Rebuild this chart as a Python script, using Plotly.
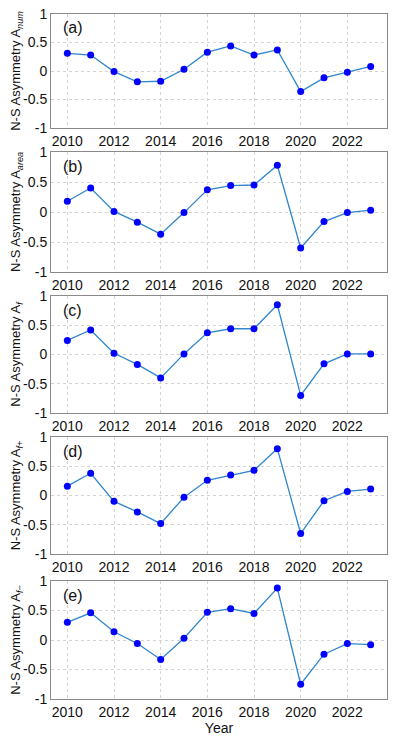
import plotly.graph_objects as go

years = list(range(2010, 2024))
a_num = [0.31, 0.28, -0.01, -0.19, -0.18, 0.03, 0.33, 0.44, 0.28, 0.37, -0.36, -0.12, -0.02, 0.08]
a_area = [0.18, 0.40, 0.01, -0.17, -0.37, -0.01, 0.37, 0.44, 0.45, 0.78, -0.60, -0.16, -0.01, 0.03]
a_f = [0.24, 0.42, 0.02, -0.17, -0.40, 0.01, 0.37, 0.44, 0.44, 0.85, -0.70, -0.16, 0.01, 0.01]
a_fplus = [0.16, 0.38, -0.10, -0.28, -0.48, -0.03, 0.26, 0.35, 0.43, 0.80, -0.65, -0.09, 0.07, 0.11]
a_fminus = [0.30, 0.46, 0.14, -0.06, -0.33, 0.03, 0.47, 0.53, 0.45, 0.88, -0.75, -0.24, -0.06, -0.08]

series = [a_num, a_area, a_f, a_fplus, a_fminus]
panel_labels = ["(a)", "(b)", "(c)", "(d)", "(e)"]
y_titles = [
    "N-S Asymmetry A<sub><i>num</i></sub>",
    "N-S Asymmetry A<sub><i>area</i></sub>",
    "N-S Asymmetry A<sub><i>f</i></sub>",
    "N-S Asymmetry A<sub><i>f+</i></sub>",
    "N-S Asymmetry A<sub><i>f−</i></sub>",
]
x_ticks = [2010, 2012, 2014, 2016, 2018, 2020, 2022]
y_ticks = [-1, -0.5, 0, 0.5, 1]
y_tick_text = ["-1", "-0.5", "0", "0.5", "1"]

# page body has an 8px margin; figure is sized to fit inside the window
OFF = 8
W, H = 399 - OFF, 743 - OFF
tops = [14, 152, 296, 437, 581]
bottoms = [128, 272, 413, 554, 699]

fig = go.Figure()
font = "Liberation Sans, Arial, sans-serif"
for i, vals in enumerate(series):
    n = i + 1
    xa = "x" if n == 1 else f"x{n}"
    ya = "y" if n == 1 else f"y{n}"
    fig.add_trace(go.Scatter(
        x=years, y=vals, xaxis=xa, yaxis=ya, mode="lines+markers",
        line=dict(color="#2f86cc", width=1.3),
        marker=dict(color="#0000ff", size=7),
        showlegend=False, cliponaxis=False,
    ))
    dom = [1 - (bottoms[i] - OFF) / H, 1 - (tops[i] - OFF) / H]
    xkey = "xaxis" if n == 1 else f"xaxis{n}"
    ykey = "yaxis" if n == 1 else f"yaxis{n}"
    xdict = dict(
        domain=[0, 1], anchor=ya, range=[2009.3, 2023.7],
        tickvals=x_ticks, ticktext=[str(t) for t in x_ticks],
        showgrid=True, gridcolor="#d4d4d4", griddash="dot", gridwidth=1,
        showline=True, linecolor="#8a8a8a", linewidth=1, mirror=True,
        ticks="", zeroline=False, ticklabeloverflow="allow",
        tickfont=dict(family=font, size=14, color="#111"),
    )
    if n == 5:
        xdict["title"] = dict(text="Year", font=dict(family=font, size=14, color="#111"), standoff=4)
    fig.update_layout(**{
        xkey: xdict,
        ykey: dict(
            domain=dom, anchor=xa, range=[-1, 1],
            tickvals=y_ticks, ticktext=y_tick_text,
            showgrid=True, gridcolor="#d4d4d4", griddash="dot", gridwidth=1,
            showline=True, linecolor="#8a8a8a", linewidth=1, mirror=True,
            ticks="", zeroline=False, ticklabeloverflow="allow",
            tickfont=dict(family=font, size=14, color="#111"),
            title=dict(text=y_titles[i], font=dict(family=font, size=13, color="#111"), standoff=7),
        ),
    })
    fig.add_annotation(
        text=panel_labels[i], xref=f"{xa} domain", yref=f"{ya} domain",
        x=0.03, y=0.88, xanchor="left", yanchor="middle", showarrow=False,
        font=dict(family=font, size=16, color="#111"),
    )

fig.update_layout(
    width=W, height=H,
    margin=dict(l=51 - OFF, r=12, t=0, b=0, autoexpand=False),
    plot_bgcolor="white", paper_bgcolor="white",
)
fig.write_html("out.html")
